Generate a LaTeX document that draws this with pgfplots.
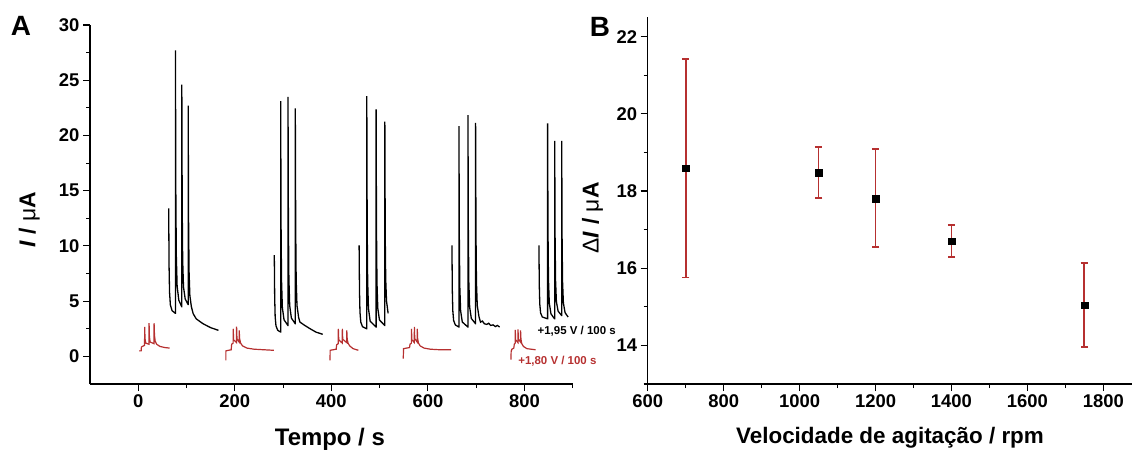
\documentclass[border=0pt]{standalone}
\usepackage{pgfplots}
\pgfplotsset{compat=1.18}
\usepackage{fontspec}
\setmainfont{Liberation Sans}
\definecolor{myred}{RGB}{182,48,48}
\begin{document}
\begin{tikzpicture}
\useasboundingbox (0,0) rectangle (1132bp,452bp);
\pgfplotsset{
  common/.style={
    scale only axis,
    axis lines=left,
    axis line style={-, line width=1.2bp, black},
    tick align=outside,
    major tick length=7bp,
    minor tick length=4bp,
    tick style={black, line width=1.1bp},
    every tick label/.append style={font=\bfseries\fontsize{18.5}{18.5}\selectfont},
    /pgf/number format/assume math mode=true,
    /pgf/number format/1000 sep={},
    every axis label/.append style={font=\bfseries\fontsize{22.5}{22.5}\selectfont},
  }
}
% Panel A
\begin{axis}[common,
  at={(90bp,68bp)}, anchor=south west,
  width=482.7bp, height=359bp,
  xmin=-100, xmax=900, ymin=-2.5, ymax=30,
  xtick={0,200,...,800}, ytick={0,5,...,30},
  xticklabels={0,200,400,600,800},
  yticklabels={0,5,10,15,20,25,30},
  minor xtick={100,300,500,700,900},
  minor ytick={2.5,7.5,...,27.5},
  clip=false,
  xlabel={Tempo / s},
  ylabel={\textit{I} / {\mdseries μ}A},
  xlabel style={at={(axis description cs:0.497,-0.153)}, anchor=center, font=\bfseries\fontsize{24}{24}\selectfont},
  ylabel style={at={(axis description cs:-0.126,0.457)}, anchor=center, rotate=0, font=\bfseries\fontsize{23}{23}\selectfont},
]
% black traces +1.95 V
\addplot[black, line width=1.3bp] coordinates {
(63,13.4) (63.8,8.18) (64.8,5.8) (66.5,4.66) (70,4.14) (76.8,3.9)
(77,3.9) (77,27.7) (77.8,14.94) (78.8,9.14) (80.5,6.36) (84,5.08) (90,4.5)
(90.2,4.5) (90.2,24.6) (91,13.66) (92,8.68) (93.7,6.29) (97.2,5.2) (103.2,4.7)
(103.4,4.7) (103.4,22.7) (104.2,12.4) (105.2,7.7) (106.9,5.5) (110,4.5) (113.7,3.87) (120,3.4) (134,2.96) (150,2.6) (166,2.36)
};
\addplot[black, line width=1.3bp] coordinates {
(281.8,9.16) (282.6,5.33) (283.6,3.59) (285.3,2.76) (288.8,2.37) (294.8,2.2)
(295,2.2) (295,23.1) (295.8,11.94) (296.8,6.86) (298.5,4.42) (302,3.31) (310,2.8)
(310.2,2.8) (310.2,23.5) (311,12.2) (312,7.07) (313.7,4.6) (317.2,3.47) (325.1,2.96)
(325.3,2.96) (325.3,22.45) (326.1,11.9) (327.1,7.0) (328.8,4.6) (332.3,3.5) (335,3.1) (345,2.8) (356,2.5) (368,2.2) (382,2.0)
};
\addplot[black, line width=1.3bp] coordinates {
(457.5,10.06) (458.3,5.9) (459.3,4.01) (461,3.1) (464.5,2.69) (473.2,2.5)
(473.4,2.5) (473.4,23.57) (474.2,12.06) (475.2,6.84) (476.9,4.33) (480.4,3.18) (492.5,2.66)
(492.7,2.66) (492.7,22.36) (493.5,11.6) (494.5,6.71) (496.2,4.36) (499.7,3.29) (510.6,2.8)
(510.8,2.8) (510.8,21.25) (511.6,11.0) (512.6,7.0) (514.3,5.0) (517.6,3.9)
};
\addplot[black, line width=1.3bp] coordinates {
(649.8,10.06) (650.6,5.99) (651.6,4.14) (653.3,3.25) (656.8,2.85) (664.1,2.66)
(664.3,2.66) (664.3,20.85) (665.1,10.85) (666.1,6.3) (667.8,4.12) (671.3,3.11) (682.8,2.66)
(683,2.66) (683,21.85) (683.8,11.46) (684.8,6.74) (686.5,4.47) (690,3.43) (698.6,2.96)
(698.8,2.96) (698.8,21.15) (699.6,11.2) (700.6,6.7) (702.3,4.6) (705.8,3.6) (709,3.1) (713,3.2) (717,2.95) (722,2.9) (726,3.0) (730,2.8) (735,2.85) (740,2.7) (744,2.8) (748.6,2.66)
};
\addplot[black, line width=1.3bp] coordinates {
(830,10.06) (830.8,6.4) (831.8,4.73) (833.5,3.93) (837,3.57) (847.8,3.4)
(848,3.4) (848,21.1) (848.8,11.37) (849.8,6.94) (851.5,4.82) (855,3.84) (862.5,3.4)
(862.7,3.4) (862.7,19.5) (863.5,10.81) (864.5,6.86) (866.2,4.96) (869.7,4.1) (877,3.7)
(877.2,3.7) (877.2,19.5) (878,10.72) (879,6.74) (880.7,4.83) (884.2,3.96) (890.5,3.56)
};
% red traces +1.80 V
\addplot[myred, line width=1.2bp] coordinates {
(2,0.5) (6,0.5) (6.5,0.85) (13,1.0) (13.3,2.66) (14,1.6) (15.5,1.2) (22.2,1.1) (22.4,3.0) (23.1,1.8) (24.5,1.3) (32.6,1.15) (32.8,3.0) (33.6,1.9) (35,1.4) (38,1.1) (45,0.9) (55,0.8) (65,0.75)
};
\addplot[myred, line width=1.2bp] coordinates {
(181.5,-0.35) (181.5,0.5) (192.5,0.6) (193.5,1.1) (196.5,1.2) (196.7,2.5) (197.5,1.5) (203.5,1.25) (203.7,2.7) (204.5,1.6) (208.9,1.3) (209.1,2.35) (210,1.6) (212,1.2) (216,0.95) (225,0.75) (240,0.65) (260,0.6) (281,0.55)
};
\addplot[myred, line width=1.2bp] coordinates {
(397.3,-0.36) (397.5,0.55) (410,0.65) (411,1.05) (414.3,1.15) (414.5,2.5) (415.3,1.5) (422.6,1.2) (422.8,2.5) (423.6,1.55) (431.8,1.25) (432,2.36) (432.8,1.6) (434.5,1.2) (438,0.95) (445,0.7) (456,0.55)
};
\addplot[myred, line width=1.2bp] coordinates {
(549,-0.2) (549.5,0.7) (562,0.8) (563,1.1) (565.8,1.2) (566,2.5) (566.8,1.5) (571.8,1.25) (572,2.66) (572.8,1.6) (577.8,1.3) (578,2.5) (578.8,1.6) (580.5,1.2) (584,0.95) (592,0.75) (605,0.65) (625,0.6) (648,0.6)
};
\addplot[myred, line width=1.2bp] coordinates {
(772,-0.3) (772.5,0.45) (774,0.65) (778,0.75) (779,1.1) (780.8,1.2) (781,2.4) (781.8,1.5) (786.5,1.25) (786.7,2.45) (787.5,1.55) (791.8,1.3) (792,2.35) (792.8,1.55) (794.5,1.15) (798,0.9) (805,0.7) (823,0.6)
};
\node[anchor=west, inner sep=0pt, font=\bfseries\fontsize{11.5}{11.5}\selectfont, text=black] at (axis cs:827,2.27) {+1,95 V / 100 s};
\node[anchor=west, inner sep=0pt, font=\bfseries\fontsize{11.5}{11.5}\selectfont, text=myred] at (axis cs:787,-0.45) {+1,80 V / 100 s};
\end{axis}
% Panel B
\begin{axis}[common,
  at={(647.7bp,68bp)}, anchor=south west,
  width=484.1bp, height=366.7bp,
  xmin=600, xmax=1875, ymin=13, ymax=22.5,
  xtick={600,800,...,1800}, ytick={14,16,...,22},
  xticklabels={600,800,1000,1200,1400,1600,1800},
  yticklabels={14,16,18,20,22},
  minor xtick={700,900,...,1700},
  minor ytick={13,15,...,21},
  xlabel={Velocidade de agitação / rpm},
  ylabel={{\mdseries Δ}\textit{I} / {\mdseries μ}A},
  xlabel style={at={(axis description cs:0.5005,-0.147)}, anchor=center},
  ylabel style={at={(axis description cs:-0.114,0.453)}, anchor=center, rotate=0, font=\bfseries\fontsize{23}{23}\selectfont},
  error bars/error bar style={draw=myred, color=myred, line width=1.8bp},
  error bars/error mark options={draw=myred, color=myred, line width=1.8bp, mark size=3.7bp, rotate=90},
]
\addplot[only marks, mark=square*, mark size=3.4bp, color=black, fill=black,
  error bars/y dir=both, error bars/y explicit]
coordinates {
(700,18.59) +- (0,2.83)
(1050,18.48) +- (0,0.66)
(1200,17.81) +- (0,1.27)
(1400,16.70) +- (0,0.41)
(1750,15.04) +- (0,1.09)
};
\end{axis}
\node[font=\bfseries\fontsize{28}{28}\selectfont] at (21bp,426bp) {A};
\node[font=\bfseries\fontsize{28}{28}\selectfont] at (600bp,425.5bp) {B};
\end{tikzpicture}
\end{document}
